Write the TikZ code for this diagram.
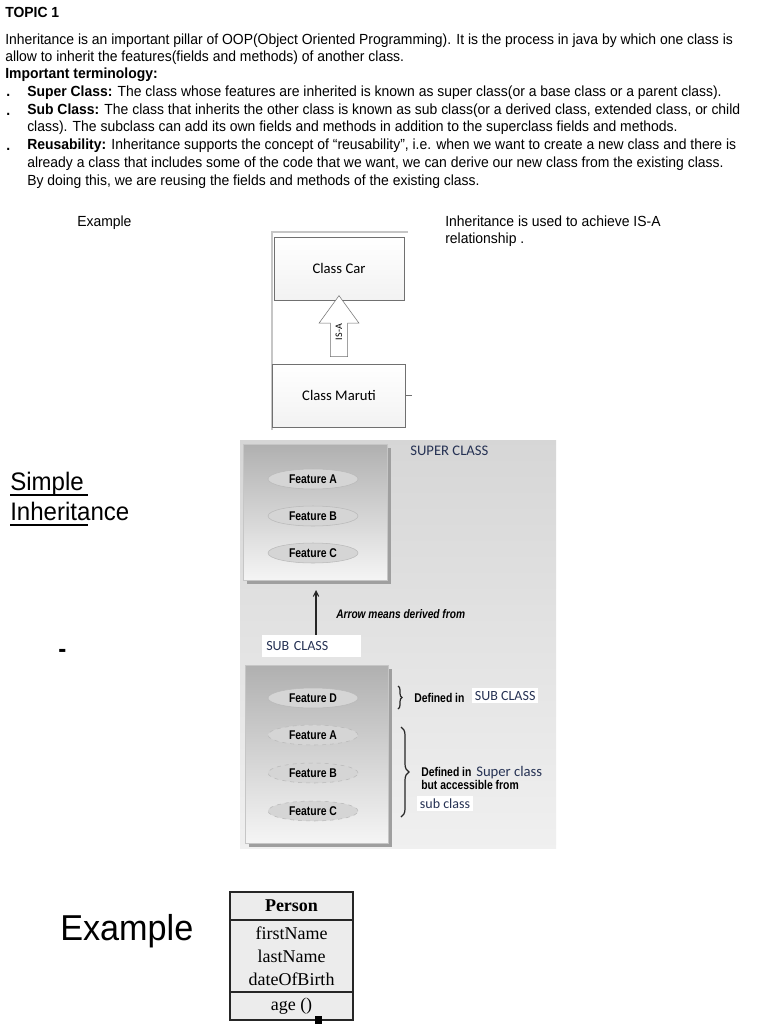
\documentclass[tikz,border=0pt]{standalone}
\usepackage{fontspec}
\setmainfont[FakeStretch=0.95]{Liberation Sans}
\newfontfamily\calfont{Carlito}
\newfontfamily\condfont[FakeStretch=0.82]{Liberation Sans}
\newfontfamily\umlfont{Liberation Serif}
\usetikzlibrary{shapes.geometric, shapes.arrows, arrows.meta, positioning, calc, shadows, decorations.pathreplacing}
\definecolor{cNavy}{RGB}{38,50,84}
\definecolor{cFrame}{RGB}{112,112,112}
\tikzset{
	bodyline/.style ={anchor=base west, inner sep=0pt, font=\fontsize{11}{13}\selectfont},
	bigline/.style  ={anchor=base west, inner sep=0pt, font=\fontsize{19}{23}\selectfont},
	% is-a picture
	carbox/.style   ={rectangle, draw=cFrame, top color=white, bottom color=gray!10, minimum height=47pt, font=\calfont\fontsize{11}{13}\selectfont},
	isaarrow/.style ={single arrow, draw=cFrame, fill=white, rotate=90, single arrow head extend=8.5pt, single arrow tip angle=72, single arrow head indent=0pt, minimum height=45.75pt, inner xsep=0pt, inner ysep=3.8pt, font=\calfont\fontsize{7.5}{9}\selectfont},
	% simple inheritance picture
	classbox/.style ={rectangle, draw=gray!45, top color=gray!62, bottom color=gray!8, drop shadow={shadow xshift=3pt, shadow yshift=-3pt, fill=gray!75, opacity=1}},
	feat/.style     ={ellipse, minimum width=67.5pt, minimum height=15pt, inner sep=0pt, fill=gray!33, draw=gray!55, font=\condfont\bfseries\fontsize{9.5}{11}\selectfont},
	featx/.style    ={feat, dashed},
	navylbl/.style  ={anchor=base west, inner sep=0pt, text=cNavy, font=\calfont\fontsize{11}{13}\selectfont},
	condlbl/.style  ={anchor=base west, inner sep=0pt, font=\condfont\bfseries\fontsize{9.5}{11}\selectfont},
	brc/.style      ={decorate, gray!30!black, line width=0.9pt},
	derive/.style   ={-{Straight Barb[length=4pt, width=4pt]}, gray!30!black, line width=0.8pt},
	% uml class
	umlpart/.style  ={rectangle, draw=black!85, line width=1pt, fill=gray!15, outer sep=0pt, minimum width=92.25pt, inner sep=0pt, align=center, font=\umlfont\fontsize{13.5}{17.25}\selectfont},
}
\begin{document}
\begin{tikzpicture}[x=0.75pt, y=-0.75pt]
\useasboundingbox (0,0) rectangle (768,1024);
\fill[white] (0,0) rectangle (768,1024);

% heading and terminology
\node[bodyline, font=\bfseries\fontsize{11}{13}\selectfont] (topic) at (5,18) {TOPIC 1};
\node[bodyline] (intro1) at (5,45) {Inheritance is an important pillar of OOP(Object Oriented Programming). It is the process in java by which one class is};
\node[bodyline] (intro2) at (5,62) {allow to inherit the features(fields and methods) of another class.};
\node[bodyline, font=\bfseries\fontsize{11}{13}\selectfont] (terms) at (5,79) {Important terminology:};
\foreach \y in {97,115,150} \node[bodyline, font=\bfseries\fontsize{11}{13}\selectfont] (dot\y) at (6,\y) {.};
\node[bodyline] (sup1) at (27,96) {\textbf{Super Class:} The class whose features are inherited is known as super class(or a base class or a parent class).};
\node[bodyline] (sub1) at (27,114) {\textbf{Sub Class:} The class that inherits the other class is known as sub class(or a derived class, extended class, or child};
\node[bodyline] (sub2) at (27,132) {class). The subclass can add its own fields and methods in addition to the superclass fields and methods.};
\node[bodyline] (reu1) at (27,149) {\textbf{Reusability:} Inheritance supports the concept of “reusability”, i.e. when we want to create a new class and there is};
\node[bodyline] (reu2) at (27,167) {already a class that includes some of the code that we want, we can derive our new class from the existing class.};
\node[bodyline] (reu3) at (27,185) {By doing this, we are reusing the fields and methods of the existing class.};

% is-a example
\node[bodyline] (ex1) at (77,226) {Example};
\node[bodyline] (isa1) at (445,226) {Inheritance is used to achieve IS-A};
\node[bodyline] (isa2) at (445,243) {relationship .};
\draw[gray!45, line width=1pt] (272,430) -- (272,232) -- (408,232);
\node[carbox, minimum width=97.5pt] (car) at (339,268.5) {Class Car};
\node[carbox, minimum width=99.75pt, below=48pt of car] (maruti) {Class Maruti};
\draw[cFrame] (maruti.east) -- ++(6,0);
\node[isaarrow] (isa) at ($(maruti.north)!0.5!(car.south)$) {IS-A};

% simple inheritance
\node[bigline] (simple) at (10,490) {Simple};
\node[bigline] (inher) at (10,520) {Inheritance};
\draw[line width=1pt] (10,495) -- (88,495) (10,525) -- (88,525);
\node[bigline, font=\bfseries\fontsize{19}{23}\selectfont] (dash) at (58,657) {-};

\shade[top color=gray!32, bottom color=gray!12] (240,440) rectangle (556,848);
\node[classbox, minimum width=108pt, minimum height=102pt] (superbox) at (315,512) {};
\node[feat] (fa) at (313,479) {Feature A};
\node[feat] (fb) at (313,516) {Feature B};
\node[feat] (fc) at (313,553) {Feature C};
\node[navylbl] (suplbl) at (410,455) {SUPER CLASS};

\coordinate (foot) at (316,636);
\coordinate (tip) at (316,590);
\draw[derive] (foot) -- (tip);
\node[condlbl, font=\condfont\bfseries\itshape\fontsize{9.3}{11}\selectfont] (means) at (336,618) {Arrow means derived from};
\node[anchor=west, fill=white, text=cNavy, font=\calfont\fontsize{10.5}{12}\selectfont, minimum height=17pt, text width=68pt, inner xsep=3pt, inner ysep=0pt] (sublbl) at (262,646) {SUB CLASS};

\node[classbox, minimum width=107.25pt, minimum height=133.5pt] (subbox) at (316.5,754) {};
\node[feat] (fd) at (313,698) {Feature D};
\node[featx] (fa2) at (313,735) {Feature A};
\node[featx] (fb2) at (313,773) {Feature B};
\node[featx] (fc2) at (313,811) {Feature C};

\draw[brc, decoration={brace, amplitude=3pt}] (398,686) -- (398,709);
\node[condlbl] (def1) at (414,702) {Defined in};
\node[anchor=base west, fill=white, text=cNavy, font=\calfont\fontsize{10.5}{12}\selectfont, inner sep=2pt] (def1b) at (472,700) {SUB CLASS};
\draw[brc, decoration={brace, amplitude=6pt}] (401,727) -- (401,817);
\node[condlbl] (def2) at (421,776) {Defined in};
\node[navylbl] (def2b) at (476,776) {Super class};
\node[condlbl] (def3) at (421,789) {but accessible from};
\node[anchor=base west, fill=white, text=cNavy, font=\calfont\fontsize{10.5}{12}\selectfont, inner sep=2pt] (def4) at (417,808) {sub class};

% uml example
\node[bigline, font=\fontsize{27}{32}\selectfont] (ex2) at (60,940) {Example};
\node[umlpart, minimum height=21pt, font=\umlfont\bfseries\fontsize{13.5}{17.25}\selectfont] (pname) at (291.5,906) {Person};
\node[umlpart, minimum height=54pt, below=0pt of pname] (pattr) {firstName\\lastName\\dateOfBirth};
\node[umlpart, minimum height=21pt, below=0pt of pattr] (pmeth) {age ()};
\draw[line width=1.8pt, black!85] (pname.south west) -- (pname.south east);
\fill (315,1016) rectangle (322,1024);
\end{tikzpicture}
\end{document}
